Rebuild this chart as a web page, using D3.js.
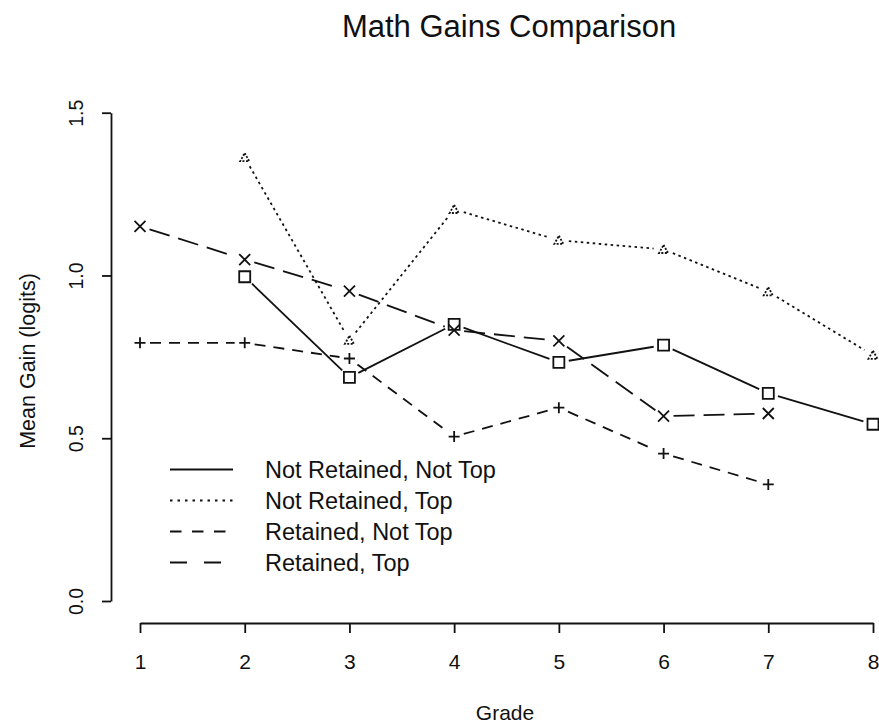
<!DOCTYPE html>
<html>
<head>
<meta charset="utf-8" />
<title>Math Gains Comparison</title>
<script src="https://cdn.jsdelivr.net/npm/d3@7"></script>
<style>
  body { margin: 0; background: #fff; }
  svg text { font-family: "Liberation Sans", Arial, Helvetica, sans-serif; fill: #111; }
</style>
</head>
<body>
<div id="chart"></div>
<script>
// grades on the x axis
var grades = [1, 2, 3, 4, 5, 6, 7, 8];
var yTicks = [0, 0.5, 1.0, 1.5];

// Not Retained, Not Top (solid, squares)
var nrntGrades = [2, 3, 4, 5, 6, 7, 8];
var nrntValues = [0.996, 0.687, 0.850, 0.733, 0.786, 0.638, 0.543];

// Not Retained, Top (dotted, triangles)
var nrtGrades = [2, 3, 4, 5, 6, 7, 8];
var nrtValues = [1.362, 0.801, 1.203, 1.108, 1.080, 0.950, 0.755];

// Retained, Not Top (short dash, plus)
var rntGrades = [1, 2, 3, 4, 5, 6, 7];
var rntValues = [0.793, 0.793, 0.745, 0.505, 0.594, 0.453, 0.358];

// Retained, Top (long dash, x)
var rtGrades = [1, 2, 3, 4, 5, 6, 7];
var rtValues = [1.151, 1.049, 0.952, 0.832, 0.799, 0.568, 0.576];

var legendLabels = ["Not Retained, Not Top", "Not Retained, Top", "Retained, Not Top", "Retained, Top"];

var width = 879, height = 728;
var ink = "#111";
var lw = 1.8;

var svg = d3.select("#chart").append("svg")
  .attr("width", width).attr("height", height)
  .attr("viewBox", "0 0 " + width + " " + height);

var x = d3.scaleLinear().domain([1, 8]).range([140, 873]);
var y = d3.scaleLinear().domain([0, 1.5]).range([601, 112.7]);

// custom marker shapes (size = side length)
var squareType = { draw: function(ctx, s) { var r = s / 2; ctx.rect(-r, -r, s, s); } };
var crossType = { draw: function(ctx, s) { var r = s / 2; ctx.moveTo(-r, -r); ctx.lineTo(r, r); ctx.moveTo(-r, r); ctx.lineTo(r, -r); } };
var plusType = { draw: function(ctx, s) { var r = s / 2; ctx.moveTo(-r, 0); ctx.lineTo(r, 0); ctx.moveTo(0, -r); ctx.lineTo(0, r); } };
var triType = { draw: function(ctx, s) { var r = s / 2; ctx.moveTo(0, -r); ctx.lineTo(r, r * 0.8); ctx.lineTo(-r, r * 0.8); ctx.closePath(); } };

var series = [
  { grades: nrntGrades, values: nrntValues, dash: null, legendDash: null, shape: squareType, size: 11, markDash: null },
  { grades: nrtGrades, values: nrtValues, dash: "2.5,3.5", legendDash: "2.5,5", shape: triType, size: 9, markDash: "2,1.5" },
  { grades: rntGrades, values: rntValues, dash: "11,8", legendDash: "11.5,10.5", shape: plusType, size: 11, markDash: null },
  { grades: rtGrades, values: rtValues, dash: "21,9", legendDash: "17,17", shape: crossType, size: 11, markDash: null }
];

// title
svg.append("text").attr("x", 509).attr("y", 36.5)
  .attr("text-anchor", "middle").style("font-size", "31px")
  .text("Math Gains Comparison");

// x axis
var xAxis = svg.append("g").attr("transform", "translate(0,623)")
  .call(d3.axisBottom(x).tickValues(grades).tickSize(10).tickSizeOuter(0).tickFormat(d3.format("d")));
xAxis.selectAll("text").attr("y", 46).attr("dy", null).style("font-size", "21px");

svg.append("text").attr("x", 505).attr("y", 720)
  .attr("text-anchor", "middle").style("font-size", "21px").text("Grade");

// y axis
var yAxis = svg.append("g").attr("transform", "translate(111,0)")
  .call(d3.axisLeft(y).tickValues(yTicks).tickSize(9).tickSizeOuter(0).tickFormat(d3.format(".1f")));
yAxis.selectAll("text")
  .attr("x", null).attr("dy", "0.35em")
  .attr("text-anchor", "middle")
  .attr("transform", "translate(-35,0) rotate(-90)")
  .style("font-size", "19.5px");

svg.append("text").attr("transform", "translate(27,361) rotate(-90)")
  .attr("text-anchor", "middle").attr("dy", "0.35em")
  .style("font-size", "21.5px").text("Mean Gain (logits)");

[xAxis, yAxis].forEach(function(g) {
  g.selectAll("path, line").attr("stroke", ink).attr("stroke-width", lw);
  g.selectAll("text").attr("fill", ink).style("font-family", "'Liberation Sans', Arial, sans-serif");
});

// lines drawn as separate segments with a gap round each marker
var gap = 10;
series.forEach(function(s) {
  var pts = s.grades.map(function(g, i) { return [x(g), y(s.values[i])]; });
  var segs = [];
  for (var i = 0; i < pts.length - 1; i++) {
    var p0 = pts[i], p1 = pts[i + 1];
    var dx = p1[0] - p0[0], dy = p1[1] - p0[1];
    var len = Math.sqrt(dx * dx + dy * dy);
    var ux = dx / len, uy = dy / len;
    segs.push([p0[0] + ux * gap, p0[1] + uy * gap, p1[0] - ux * gap, p1[1] - uy * gap]);
  }
  svg.append("g").selectAll("line").data(segs).enter().append("line")
    .attr("x1", function(d) { return d[0]; }).attr("y1", function(d) { return d[1]; })
    .attr("x2", function(d) { return d[2]; }).attr("y2", function(d) { return d[3]; })
    .attr("stroke", ink).attr("stroke-width", lw)
    .attr("stroke-dasharray", s.dash);

  svg.append("g").selectAll("path").data(pts).enter().append("path")
    .attr("transform", function(d) { return "translate(" + d[0] + "," + d[1] + ")"; })
    .attr("d", d3.symbol().type(s.shape).size(s.size))
    .attr("fill", "none").attr("stroke", ink).attr("stroke-width", lw)
    .attr("stroke-dasharray", s.markDash);
});

// legend
var legend = svg.append("g");
series.forEach(function(s, i) {
  var ly = 469.5 + i * 31;
  legend.append("line").attr("x1", 170).attr("x2", 233).attr("y1", ly).attr("y2", ly)
    .attr("stroke", ink).attr("stroke-width", lw).attr("stroke-dasharray", s.legendDash);
  legend.append("text").attr("x", 265).attr("y", ly).attr("dy", "0.35em")
    .style("font-size", "23.5px").text(legendLabels[i]);
});
</script>
</body>
</html>
